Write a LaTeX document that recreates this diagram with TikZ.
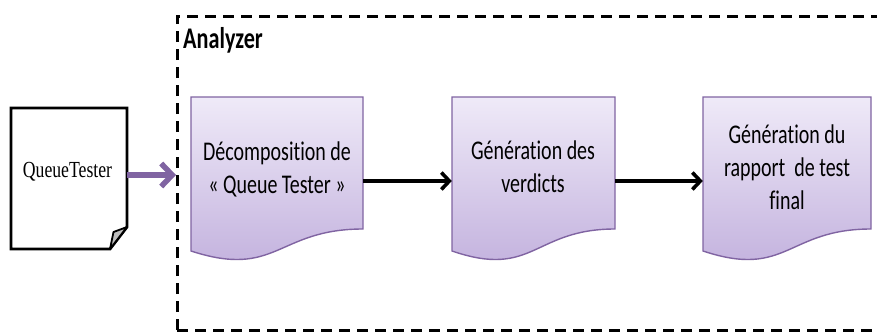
\documentclass[tikz,border=0pt]{standalone}
\usepackage{fontspec}
\setmainfont{Carlito}[FakeStretch=0.74, Ligatures=NoCommon]
\newfontfamily\narrowserif{Liberation Serif}[FakeStretch=0.77]
\usetikzlibrary{arrows.meta,calc}

\definecolor{docline}{RGB}{128,100,162}
\definecolor{doctop}{RGB}{239,234,248}
\definecolor{docbot}{RGB}{192,174,220}
\definecolor{flowpurple}{RGB}{128,100,162}
\definecolor{foldgrey}{RGB}{190,190,190}

\tikzset{
  docbody/.style={top color=doctop, bottom color=docbot, draw=docline, line width=1.4pt},
  anchorbox/.style={draw=none, inner sep=0pt, minimum height=168pt},
  doctext/.style={align=center, inner sep=0pt, font=\fontsize{27}{33}\selectfont},
  flowarrow/.style={line width=3.6pt, -{Straight Barb[length=8pt,width=17pt]}},
  inarrow/.style={draw=flowpurple, line width=5.5pt, -{Straight Barb[length=11pt,width=23pt]}},
  frame/.style={line width=3pt, dash pattern=on 11pt off 7pt},
}

% flowchart "document" shape: left edge, right edge, node name
\newcommand\flowdoc[3]{%
  \path[docbody] (#1,97) -- (#2,97) -- (#2,229)
    .. controls ({(#1+#2)/2},229) and ({(#1+#2)/2},279) .. (#1,251) -- cycle;
  \node[anchorbox, minimum width={(#2-#1)*1pt}] (#3) at ({(#1+#2)/2},181) {};
}

\begin{document}
\begin{tikzpicture}[x=1pt, y=-1pt]
  \useasboundingbox (0,0) rectangle (877,332);

  % dashed frame of the analyzer (runs past the right edge)
  \draw[frame] (177,330) -- (177,16) -- (900,16);
  \draw[frame] (177,330) -- (900,330);
  \node[anchor=base west, inner sep=0pt, font=\bfseries\fontsize{30}{35}\selectfont]
    (title) at (183,48) {Analyzer};

  % input file with folded corner
  \draw[line width=2.8pt, fill=white, line join=miter]
    (11,108) -- (127,108) -- (127,227) -- (110,249) -- (11,249) -- cycle;
  \draw[line width=1.8pt, fill=foldgrey, line join=round]
    (127,227) -- (113.5,232) -- (110,249) -- cycle;
  \node[anchorbox, minimum width=116pt, minimum height=141pt] (qt) at (69,178.5) {};
  \node[anchor=base, inner sep=0pt, font=\narrowserif\fontsize{23}{27}\selectfont]
    (qtlabel) at (67.5,177) {QueueTester};

  % processing steps
  \flowdoc{191}{363}{d1}
  \flowdoc{452}{615}{d2}
  \flowdoc{703}{871}{d3}

  \node[doctext] (t1) at (277,169) {Décomposition de\\« Queue Tester »};
  \node[doctext] (t2) at (533,167) {Génération des\\verdicts};
  \node[doctext] (t3) at (787,167) {Génération du\\rapport\ \ de test\\final};

  % connectors
  \coordinate (inlet) at (176,175);
  \draw[inarrow] (qt.east |- inlet) -- (inlet);
  \draw[flowarrow] (d1.east) -- (d2.west);
  \draw[flowarrow] (d2.east) -- (d3.west);
\end{tikzpicture}
\end{document}
